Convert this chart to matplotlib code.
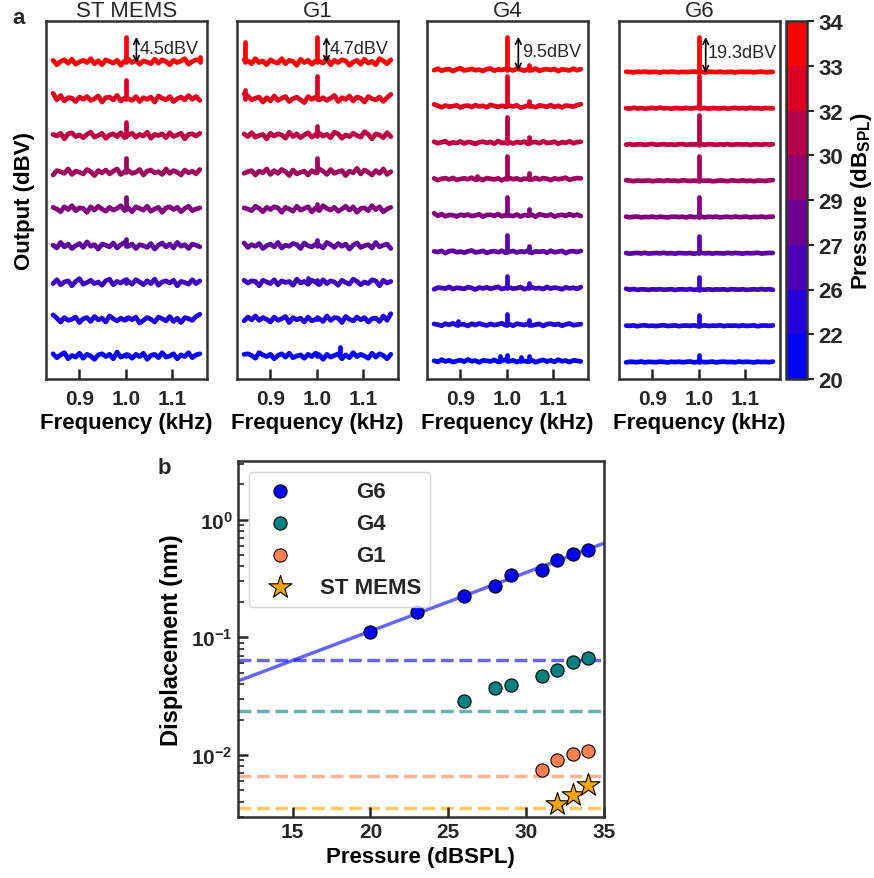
import numpy as np
import matplotlib
matplotlib.use("Agg")
import matplotlib.pyplot as plt
from matplotlib.colors import ListedColormap, BoundaryNorm
from matplotlib.cm import ScalarMappable
from matplotlib.ticker import FuncFormatter, LogLocator, NullFormatter

plt.rcParams['font.family'] = 'Liberation Sans'
plt.rcParams['mathtext.fontset'] = 'custom'
plt.rcParams['mathtext.rm'] = 'Liberation Sans'
plt.rcParams['mathtext.bf'] = 'Liberation Sans:bold'
plt.rcParams['text.color'] = '#262626'
plt.rcParams['xtick.color'] = '#262626'
plt.rcParams['ytick.color'] = '#262626'
plt.rcParams['axes.edgecolor'] = '#303030'

# ---- panel a : spectra around 1 kHz ----
pressures = [20, 22, 26, 27, 29, 30, 32, 33, 34]   # dB SPL, bottom -> top
panels = ["ST MEMS", "G1", "G4", "G6"]
peak_labels = ["4.5dBV", "4.7dBV", "9.5dBV", "19.3dBV"]

# height of the 1 kHz tone above the noise floor (arb. units), bottom -> top
peaks_st = [2, 1, 4, 7, 12, 14, 14, 19, 25]
peaks_g1 = [1, 2, 3, 6, 5, 14, 10, 23, 25]
peaks_g4 = [6, 11, 12, 17, 18, 23, 26, 30, 33]
peaks_g6 = [7, 11, 13, 17, 20, 25, 30, 32, 35]

# other spurious lines (row, frequency kHz, height)
extra_g1 = [(8, 0.845, 20), (7, 0.845, 9), (0, 1.05, 9), (2, 0.98, 5)]
extra_g4 = [(8, 1.048, 5), (7, 1.048, 5), (6, 1.048, 6), (5, 1.048, 6), (4, 1.048, 6),
            (3, 1.048, 6), (2, 1.048, 5), (1, 1.048, 5), (0, 1.048, 5),
            (0, 0.985, 5), (0, 1.03, 4), (5, 0.935, 3), (1, 0.895, 4)]
extra_g6 = []
extra_st = [(8, 1.16, 5)]

# noise amplitude and trace spacing per panel
noise_amp = [5.5, 5.5, 2.2, 0.8]
first_base = [23, 23, 18, 17]
base_step = [36.75, 36.75, 36.4, 36.25]

noise_rows = [
    [0.4, -0.3, 0.2, 0.6, -0.5, 0.1, -0.2, 0.5, -0.4, 0.3, 0.0, -0.6, 0.2, 0.4, -0.1, 0.3, -0.5, 0.7, -0.2, 0.1,
     0.2, -0.4, 0.3, -0.1, 0.5, -0.6, 0.1, 0.3, -0.3, 0.6, -0.2, 0.0, 0.4, -0.5, 0.2, -0.1, 0.6, -0.3, 0.2, 0.4],
    [0.8, 0.2, -0.5, 0.3, -0.2, 0.0, 0.4, -0.6, 0.1, 0.3, -0.4, 0.5, -0.1, 0.2, -0.5, 0.6, 0.1, -0.3, 0.2, -0.2,
     0.3, -0.1, 0.4, -0.7, -0.2, 0.3, 0.0, -0.5, 0.4, 0.1, -0.3, 0.5, -0.4, 0.2, -0.6, 0.3, 0.1, -0.2, 0.5, 0.9],
    [-0.2, 0.5, -0.4, 0.1, 0.3, -0.6, 0.2, 0.7, -0.3, 0.0, 0.4, -0.2, 0.1, -0.5, 0.3, 0.6, -0.4, 0.2, -0.1, 0.4,
     0.2, -0.3, 0.5, 0.1, -0.4, 0.3, -0.2, 0.6, -0.5, 0.1, 0.3, -0.1, 0.4, -0.6, 0.2, 0.0, -0.3, 0.5, -0.2, 0.3],
    [0.1, -0.4, 0.6, -0.2, 0.3, -0.5, 0.0, 0.4, -0.3, 0.7, -0.1, 0.2, -0.6, 0.3, 0.1, -0.2, 0.5, -0.4, 0.2, 0.6,
     -0.1, 0.3, -0.5, 0.2, 0.0, -0.3, 0.4, -0.6, 0.1, 0.5, -0.2, 0.3, -0.4, 0.6, -0.1, 0.2, -0.5, 0.3, 0.1, -0.2],
    [0.3, 0.0, -0.5, 0.4, -0.1, 0.6, -0.3, 0.2, 0.1, -0.6, 0.4, -0.2, 0.5, 0.0, -0.4, 0.3, -0.2, 0.1, 0.6, -0.3,
     0.2, -0.5, 0.4, 0.1, -0.2, 0.5, -0.4, 0.0, 0.3, -0.6, 0.2, 0.4, -0.1, 0.3, -0.5, 0.1, 0.5, -0.3, 0.0, 0.2],
    [-0.5, 0.3, 0.1, -0.2, 0.6, -0.4, 0.2, 0.0, -0.3, 0.5, 0.1, -0.6, 0.3, -0.1, 0.4, -0.3, 0.2, 0.6, -0.4, 0.1,
     0.3, -0.2, 0.0, 0.5, -0.5, 0.2, 0.4, -0.1, 0.1, -0.4, 0.6, -0.2, 0.3, 0.0, -0.5, 0.4, -0.1, 0.2, -0.3, 0.5],
    [0.2, -0.1, 0.4, -0.6, 0.3, 0.5, -0.2, 0.1, -0.4, 0.2, 0.6, -0.3, 0.0, 0.4, -0.5, 0.1, 0.3, -0.2, 0.5, -0.4,
     0.1, 0.4, -0.3, 0.2, -0.1, 0.6, -0.5, 0.2, 0.0, 0.3, -0.4, 0.5, -0.2, 0.1, 0.4, -0.6, 0.2, 0.3, -0.1, 0.4],
    [1.0, -0.2, 0.6, -0.4, 0.2, 0.1, -0.5, 0.3, -0.1, 0.4, -0.3, 0.0, 0.5, -0.6, 0.2, 0.3, -0.2, 0.6, -0.4, 0.1,
     0.0, -0.3, 0.4, -0.5, 0.2, -0.1, 0.3, -0.6, 0.5, 0.1, -0.2, 0.4, -0.5, 0.0, 0.3, -0.2, 0.6, -0.1, 0.4, -0.3],
    [0.3, -0.5, 0.1, 0.4, -0.2, 0.5, -0.4, 0.0, 0.3, -0.1, 0.6, -0.3, 0.2, -0.5, 0.4, 0.1, -0.2, 0.3, -0.6, 0.2,
     0.5, -0.1, 0.3, -0.4, 0.2, 0.0, -0.3, 0.5, -0.2, 0.4, 0.1, -0.5, 0.3, -0.1, 0.2, 0.6, -0.4, 0.1, 0.4, 0.3],
]

# ---- panel b : displacement vs pressure ----
g6_p = [20, 23, 26, 28, 29, 31, 32, 33, 34]
g6_d = [0.110, 0.165, 0.223, 0.275, 0.337, 0.376, 0.455, 0.508, 0.556]
g4_p = [26, 28, 29, 31, 32, 33, 34]
g4_d = [0.0286, 0.0369, 0.0396, 0.0467, 0.0532, 0.0618, 0.0664]
g1_p = [31, 32, 33, 34]
g1_d = [0.00752, 0.00904, 0.01017, 0.0109]
st_p = [32, 33, 34]
st_d = [0.00384, 0.00461, 0.00557]
floors = [0.0643, 0.0238, 0.00664, 0.00351]   # G6, G4, G1, ST MEMS noise floor (nm)

W, H = 874, 879
fig = plt.figure(figsize=(W / 100, H / 100), dpi=100)

trace_colors = [(i / 8, 0, 1 - i / 8) for i in range(9)]
all_peaks = [peaks_st, peaks_g1, peaks_g4, peaks_g6]
all_extra = [extra_st, extra_g1, extra_g4, extra_g6]
lefts = [46, 237, 427, 619]
arrow_x = [1.023, 1.021, 1.025, 1.015]
label_x = [1.031, 1.028, 1.034, 1.019]

for k, name in enumerate(panels):
    ax = fig.add_axes([lefts[k] / W, 1 - 380 / H, 161 / W, 358 / H])
    for i in range(9):
        if k == 0:
            row = noise_rows[i]
        elif k == 1:
            row = noise_rows[8 - i][::-1]
        elif k == 2:
            row = noise_rows[(i + 3) % 9]
        else:
            row = noise_rows[(i + 5) % 9]
        freq = np.linspace(0.843, 1.160, len(row))
        base = first_base[k] + i * base_step[k]
        y = base + noise_amp[k] * np.array(row)
        ax.plot(freq, y, color=trace_colors[i], lw=3.4, solid_joinstyle='round', solid_capstyle='round')
        ax.plot([1.0, 1.0], [base, base + all_peaks[k][i]], color=trace_colors[i], lw=3.4,
                solid_capstyle='round')
        for (r, f, h) in all_extra[k]:
            if r == i:
                ax.plot([f, f], [base, base + h], color=trace_colors[i], lw=3.4, solid_capstyle='round')
    top = first_base[k] + 8 * base_step[k]
    pk = all_peaks[k][8]
    ax.annotate('', xy=(arrow_x[k], top + pk), xytext=(arrow_x[k], top - 1),
                arrowprops=dict(arrowstyle='<->', color='black', lw=1.2, shrinkA=0, shrinkB=0,
                                mutation_scale=10))
    ax.text(label_x[k], top + pk * 0.55, peak_labels[k], fontsize=13, va='center', ha='left')
    ax.set_xlim(0.8277, 1.1755)
    ax.set_ylim(0, 358)
    ax.set_yticks([])
    ax.set_xticks([0.9, 1.0, 1.1])
    ax.set_xticklabels(['0.9', '1.0', '1.1'], fontsize=15, fontweight='bold')
    ax.tick_params(axis='x', direction='in', length=7, width=1.8, pad=7)
    ax.set_xlabel('Frequency (kHz)', fontsize=16, fontweight='bold', labelpad=3)
    ax.set_title(name, fontsize=16, pad=2)
    for s in ax.spines.values():
        s.set_linewidth(1.8)
    if k == 0:
        ax.set_ylabel('Output (dBV)', fontsize=16, fontweight='bold', labelpad=8)

# colour bar
cax = fig.add_axes([786 / W, 1 - 380 / H, 21 / W, 358 / H])
band_colors = [(j / 7, 0, 1 - j / 7) for j in range(8)]
norm = BoundaryNorm(np.arange(9), 8)
cb = fig.colorbar(ScalarMappable(norm=norm, cmap=ListedColormap(band_colors)), cax=cax,
                  ticks=np.arange(9))
cb.set_ticklabels([str(p) for p in pressures])
for t in cb.ax.get_yticklabels():
    t.set_fontweight('bold')
    t.set_fontsize(16)
cb.ax.tick_params(direction='out', length=5, width=1.5, pad=3)
cb.outline.set_linewidth(1.8)
cb.set_label(r'Pressure (dB$_{\mathbf{SPL}}$)', fontsize=16, fontweight='bold', labelpad=4)

# ---- panel b ----
bx = fig.add_axes([237.7 / W, 1 - 818 / H, 366.3 / W, 356.3 / H])
c6, c4, c1, cs = '#0000ff', '#008080', '#ff7f50', '#ffa500'
coef = np.polyfit(g6_p, np.log10(g6_d), 1)
xfit = np.array([11.47, 35])
bx.plot(xfit, 10 ** np.polyval(coef, xfit), color=c6, alpha=0.6, lw=2.5, zorder=1)
for fl, c in zip(floors, [c6, c4, c1, cs]):
    bx.axhline(fl, color=c, alpha=0.6, lw=2.5, ls='--', zorder=1)
bx.scatter(g6_p, g6_d, s=90, color=c6, edgecolor='black', linewidth=0.8, zorder=3, label='G6')
bx.scatter(g4_p, g4_d, s=90, color=c4, edgecolor='black', linewidth=0.8, zorder=3, label='G4')
bx.scatter(g1_p, g1_d, s=90, color=c1, edgecolor='black', linewidth=0.8, zorder=3, label='G1')
bx.scatter(st_p, st_d, s=300, marker='*', color=cs, edgecolor='black', linewidth=0.8, zorder=3,
           label='ST MEMS')
bx.set_yscale('log')
bx.set_xlim(11.47, 35)
bx.set_ylim(10 ** -2.527, 10 ** 0.501)
bx.set_xticks([15, 20, 25, 30, 35])
bx.yaxis.set_major_locator(LogLocator(base=10))
bx.yaxis.set_minor_locator(LogLocator(base=10, subs=np.arange(2, 10)))
bx.yaxis.set_major_formatter(FuncFormatter(lambda v, pos: r'$\mathbf{10^{%d}}$' % round(np.log10(v))))
bx.yaxis.set_minor_formatter(NullFormatter())
for t in bx.get_xticklabels():
    t.set_fontweight('bold')
bx.tick_params(axis='both', which='major', direction='in', length=7, width=1.8, labelsize=15)
bx.tick_params(axis='y', which='minor', direction='in', length=4, width=1.2)
bx.set_xlabel('Pressure (dBSPL)', fontsize=16, fontweight='bold', labelpad=4)
bx.set_ylabel('Displacement (nm)', fontsize=17, fontweight='bold', labelpad=6)
for s in bx.spines.values():
    s.set_linewidth(1.8)
leg = bx.legend(loc='upper left', prop={'weight': 'bold', 'size': 16})

fig.text(12 / W, 1 - 18 / H, 'a', fontsize=16, fontweight='bold', va='center')
fig.text(158 / W, 1 - 468 / H, 'b', fontsize=16, fontweight='bold', va='center')

# centre legend labels on the widest one
fig.canvas.draw()
rend = fig.canvas.get_renderer()
texts = leg.get_texts()
widths = [t.get_window_extent(rend).width for t in texts]
for t, w in zip(texts, widths):
    t.set_position(((max(widths) - w) / 2, 0))

fig.savefig('out.png', dpi=100)
